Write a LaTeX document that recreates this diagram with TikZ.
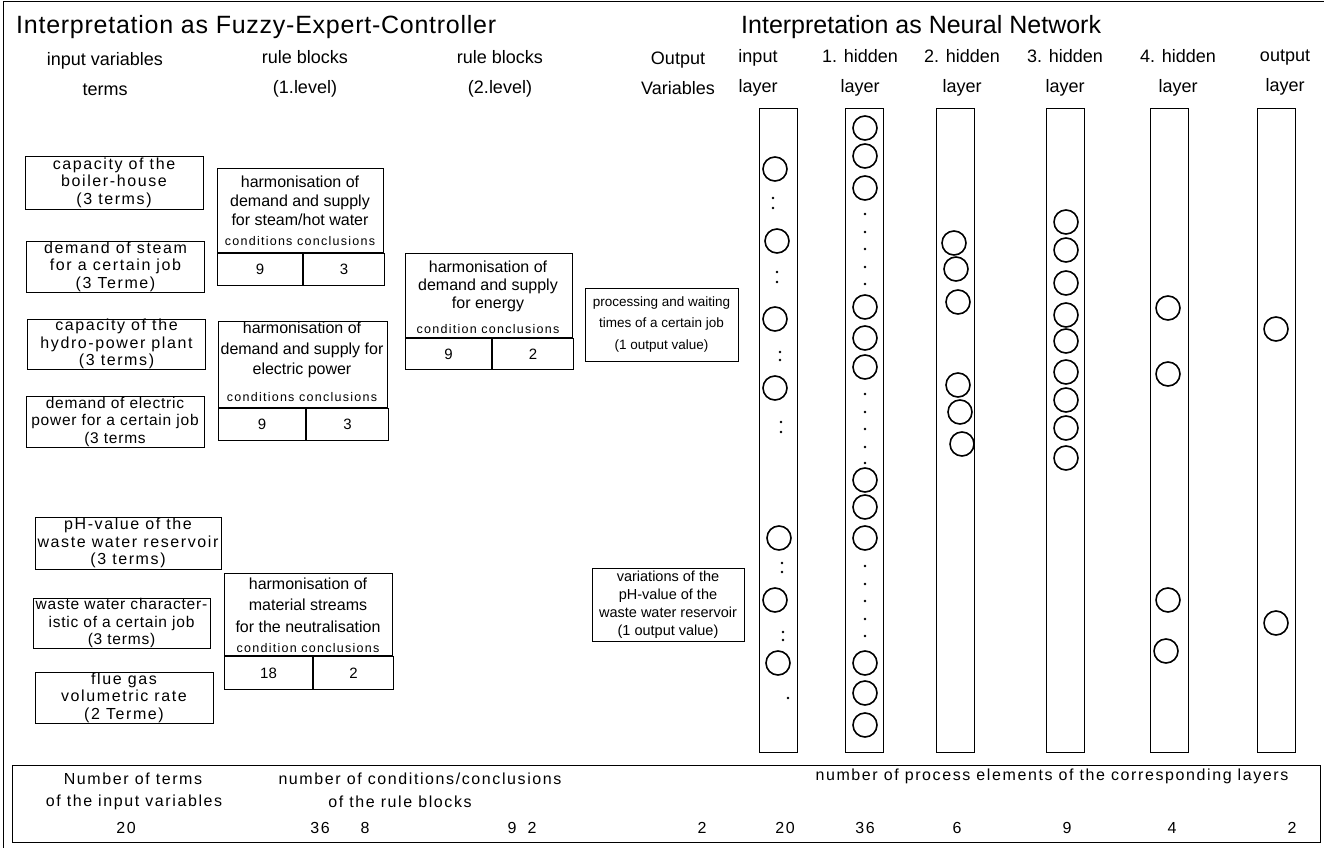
\documentclass[tikz,border=0pt]{standalone}
\usepackage{fontspec}
\setmainfont{Liberation Sans}
\newfontfamily\spacedfont[LetterSpace=10]{Liberation Sans}
\newfontfamily\tightfont[LetterSpace=5]{Liberation Sans}
\newfontfamily\titlefont[LetterSpace=3]{Liberation Sans}
\usetikzlibrary{positioning}

\tikzset{
  inbox/.style={draw, line width=1pt, align=center, inner sep=0pt,
    minimum width=178pt, minimum height=52pt,
    font=\spacedfont\fontsize{16}{17.5}\selectfont},
  rbhead/.style={draw, line width=1pt, inner sep=0pt, anchor=north west},
  rbtitle/.style={align=center, inner sep=0pt, font=\fontsize{16}{19}\selectfont},
  rbcond/.style={inner sep=0pt, font=\spacedfont\fontsize{12.5}{14}\selectfont},
  rbcell/.style={draw, line width=1pt, inner sep=0pt, minimum height=32pt,
    anchor=north west, font=\fontsize{15}{17}\selectfont},
  outbox/.style={draw, line width=1pt, align=center, inner sep=0pt},
  colhead/.style={align=center, inner sep=0pt, font=\fontsize{18}{30}\selectfont},
  bigtitle/.style={anchor=west, inner sep=0pt, font=\fontsize{25}{28}\selectfont},
  layerbox/.style={draw, line width=1pt, minimum width=38pt, minimum height=644pt,
    inner sep=0pt, anchor=north west},
  pe/.style={circle, draw, line width=1.6pt, minimum size=24pt, inner sep=0pt},
  pdot/.style={circle, fill, minimum size=2.6pt, inner sep=0pt},
  sumtext/.style={inner sep=0pt, font=\spacedfont\fontsize{16}{18}\selectfont},
}

\begin{document}
\begin{tikzpicture}[x=1pt, y=-1pt]
  \useasboundingbox (0,0) rectangle (1324,848);
  \draw[line width=1pt] (1324,2) -- (3,2) -- (3,848);

  % titles and column heads
  \node[bigtitle, font=\titlefont\fontsize{25}{28}\selectfont] (tfuzzy) at (16,27) {Interpretation as Fuzzy-Expert-Controller};
  \node[bigtitle] (tneural) at (741,27) {Interpretation as Neural Network};
  \node[colhead] (hvar) at (105,74) {input variables\\terms};
  \node[colhead] (hrb1) at (305,74) {rule blocks\\(1.level)};
  \node[colhead] (hrb2) at (500,74) {rule blocks\\(2.level)};
  \node[colhead] (hout) at (678,73) {Output\\Variables};
  \node[colhead] (hin) at (758,73) {input\\layer};
  \node[colhead] (hh1) at (860,73) {1. hidden\\layer};
  \node[colhead] (hh2) at (962,73) {2. hidden\\layer};
  \node[colhead] (hh3) at (1065,73) {3. hidden\\layer};
  \node[colhead] (hh4) at (1178,73) {4. hidden\\layer};
  \node[colhead] (hol) at (1285,73) {output\\layer};

  % input variables
  \node[inbox, minimum height=53pt] (iv1) at (114,182.5) {capacity of the\\boiler-house\\(3 terms)};
  \node[inbox, minimum height=51pt] (iv2) at (115.5,266.5) {demand of steam\\for a certain job\\(3 Terme)};
  \node[inbox, minimum height=50pt] (iv3) at (116.5,344) {capacity of the\\hydro-power plant\\(3 terms)};
  \node[inbox, minimum height=51pt, font=\tightfont\fontsize{15.5}{17.5}\selectfont] (iv4) at (115,421.5) {demand of electric\\power for a certain job\\(3 terms};
  \node[inbox, minimum width=186pt] (iv5) at (128,543) {pH-value of the\\waste water reservoir\\(3 terms)};
  \node[inbox, minimum width=177pt, minimum height=50pt, font=\tightfont\fontsize{15.5}{17.5}\selectfont] (iv6) at (121.5,623) {waste water character-\\istic of a certain job\\(3 terms)};
  \node[inbox, minimum height=51pt] (iv7) at (124,697.5) {flue gas\\volumetric rate\\(2 Terme)};

  % rule blocks, 1. level
  \node[rbhead, minimum width=166pt, minimum height=84pt] (rbA) at (217,168) {};
  \node[rbtitle] (rbAt) at (300,201) {harmonisation of\\demand and supply\\for steam/hot water};
  \node[rbcond] (rbAk) at (300,241) {conditions conclusions};
  \node[rbcell, minimum width=85pt] (rbAn) at (rbA.south west) {9};
  \node[rbcell, minimum width=81pt, right=0pt of rbAn] (rbAm) {3};

  \node[rbhead, minimum width=169pt, minimum height=86pt] (rbB) at (218,321) {};
  \node[rbtitle, font=\fontsize{16}{20.5}\selectfont] (rbBt) at (302,350) {harmonisation of\\demand and supply for\\electric power};
  \node[rbcond] (rbBk) at (302,397) {conditions conclusions};
  \node[rbcell, minimum width=87pt] (rbBn) at (rbB.south west) {9};
  \node[rbcell, minimum width=82pt, right=0pt of rbBn] (rbBm) {3};

  \node[rbhead, minimum width=168pt, minimum height=82pt] (rbC) at (224,573) {};
  \node[rbtitle, font=\fontsize{16}{21.5}\selectfont] (rbCt) at (308,605) {harmonisation of\\material streams\\for the neutralisation};
  \node[rbcond] (rbCk) at (308,648) {condition conclusions};
  \node[rbcell, minimum width=88pt, minimum height=33pt] (rbCn) at (rbC.south west) {18};
  \node[rbcell, minimum width=80pt, minimum height=33pt, right=0pt of rbCn] (rbCm) {2};

  % rule block, 2. level
  \node[rbhead, minimum width=167pt, minimum height=84pt] (rbD) at (405,253) {};
  \node[rbtitle, font=\fontsize{16}{18}\selectfont] (rbDt) at (488,286) {harmonisation of\\demand and supply\\for energy};
  \node[rbcond] (rbDk) at (488,329) {condition conclusions};
  \node[rbcell, minimum width=86pt, minimum height=31pt] (rbDn) at (rbD.south west) {9};
  \node[rbcell, minimum width=81pt, minimum height=31pt, right=0pt of rbDn] (rbDm) {2};

  % output variables
  \node[outbox, minimum width=153pt, minimum height=73pt, font=\fontsize{13.5}{21.5}\selectfont] (ov1) at (661.5,324.5) {processing and waiting\\times of a certain job\\(1 output value)};
  \node[outbox, minimum width=152pt, minimum height=73pt, font=\fontsize{14.5}{18}\selectfont] (ov2) at (668,604.5) {variations of the\\pH-value of the\\waste water reservoir\\(1 output value)};

  % layers of the network
  \node[layerbox] (lin) at (759,108) {};
  \node[layerbox] (lh1) at (845,108) {};
  \node[layerbox] (lh2) at (936,108) {};
  \node[layerbox] (lh3) at (1046,108) {};
  \node[layerbox] (lh4) at (1150,108) {};
  \node[layerbox] (lout) at (1257,108) {};

  \foreach \x/\y [count=\i] in {775/169,777/241,775/319,775/388,779/538,775/600,778/663}
    \node[pe] (in-\i) at (\x,\y) {};
  \foreach \x/\y [count=\i] in {773/198,773/208,777/272,777/282,780/352,780/360,781/422,781/432,782/563,782/572,783/632,783/640,788/698}
    \node[pdot] (ind-\i) at (\x,\y) {};

  \foreach \y [count=\i] in {128,156,188,307,338,367,480,507,538,663,693,725}
    \node[pe] (ha-\i) at (865,\y) {};
  \foreach \y [count=\i] in {214,232,249,267,284,394,412,429,447,463,566,584,601,619,636}
    \node[pdot] (had-\i) at (865,\y) {};

  \foreach \x/\y [count=\i] in {954/243,956/269,958/302,958/385,960/412,962/444}
    \node[pe] (hb-\i) at (\x,\y) {};
  \foreach \y [count=\i] in {222,250,283,315,341,372,400,428,458}
    \node[pe] (hc-\i) at (1066,\y) {};
  \foreach \x/\y [count=\i] in {1168/308,1168/374,1168/600,1166/651}
    \node[pe] (hd-\i) at (\x,\y) {};
  \foreach \y [count=\i] in {329,623}
    \node[pe] (out-\i) at (1276,\y) {};

  % summary
  \node[draw, line width=1pt, minimum width=1308pt, minimum height=77pt, inner sep=0pt, anchor=north west] (sumbox) at (12,765) {};
  \node[sumtext] (s1) at (133,779) {Number of terms};
  \node[sumtext] (s2) at (134,802) {of the input variables};
  \node[sumtext] (s3) at (420,779) {number of conditions/conclusions};
  \node[sumtext] (s4) at (400,802) {of the rule blocks};
  \node[sumtext] (s5) at (1052,776) {number of process elements of the corresponding layers};
  \foreach \x/\t [count=\i] in {126/20,320/36,365/8,512/9,532/2,702/2,785/20,865/36,957/6,1067/9,1172/4,1292/2}
    \node[sumtext] (n-\i) at (\x,828) {\t};
\end{tikzpicture}
\end{document}
